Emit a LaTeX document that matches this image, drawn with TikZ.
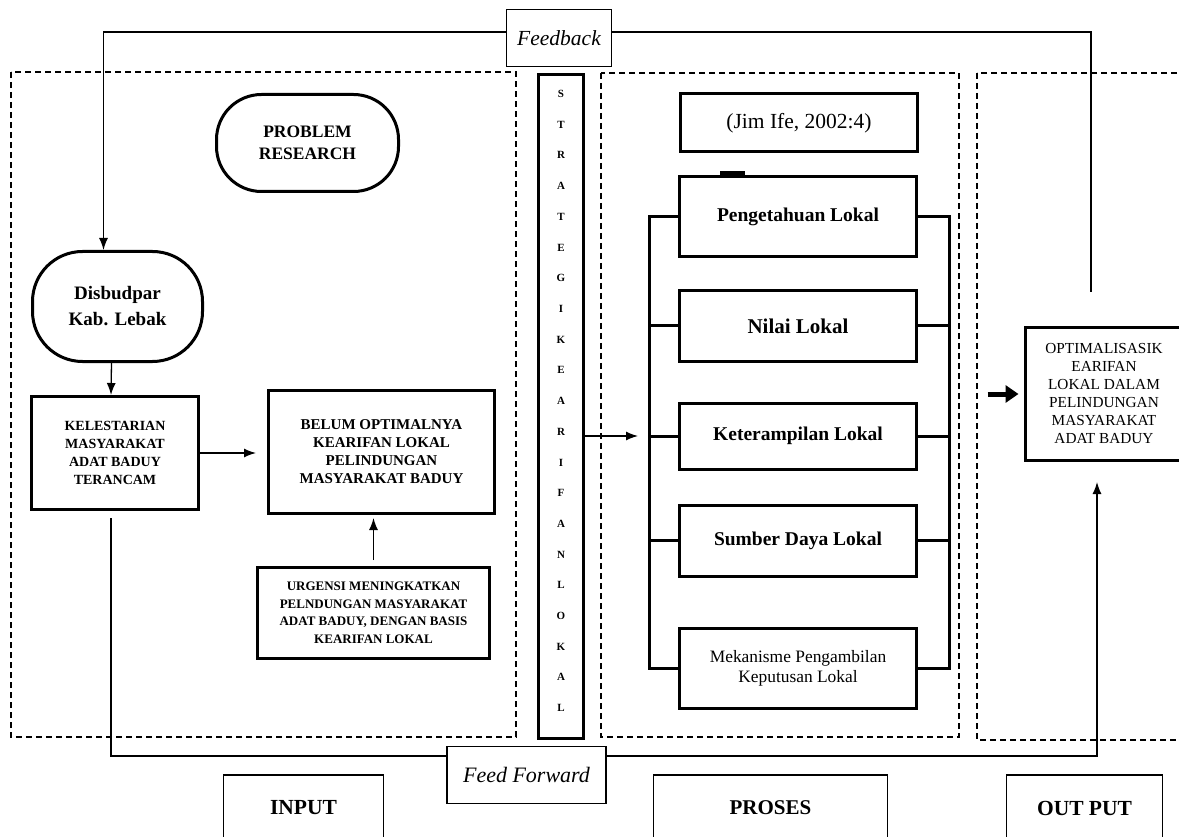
\documentclass[tikz,border=0pt]{standalone}
\usepackage{fontspec}
\setmainfont{Liberation Serif}
\usetikzlibrary{arrows.meta}

\newcommand{\fsz}[2]{\fontsize{#1}{#2}\selectfont}

\tikzset{
  thickbox/.style={draw, line width=3pt, align=center, inner sep=2pt},
  thinbox/.style={draw, line width=1.3pt, align=center, inner sep=2pt},
  roundbox/.style={draw, line width=3pt, rounded corners=45pt, align=center},
  region/.style={draw, line width=1.2pt, dash pattern=on 6pt off 4pt},
  link/.style={line width=1.3pt},
  bracket/.style={line width=3pt, line cap=rect},
  letter/.style={font=\fsz{11}{11}\bfseries, inner sep=0pt},
}

\begin{document}
\begin{tikzpicture}[x=1pt, y=-1pt, >={Latex[length=12pt,width=9pt]}]
    \useasboundingbox (0,0) rectangle (1179,837);
    \clip (0,0) rectangle (1179,837);

    % dashed regions
    \draw[region] (11,72) rectangle (516,737);
    \draw[region] (601,73) rectangle (959,737);
    \draw[region] (977,73) rectangle (1195,740);

    % input side
    \node[roundbox, minimum width=182, minimum height=97, font=\fsz{17.5}{22}\bfseries] (prob) at (307.5,143) {PROBLEM\\RESEARCH};
    \node[roundbox, rounded corners=50pt, minimum width=170, minimum height=110, font=\fsz{19}{26}\bfseries] (disb) at (117.5,306.5) {Disbudpar\\Kab. Lebak};
    \node[thickbox, minimum width=167, minimum height=113, font=\fsz{14}{18}\bfseries] (kel) at (115,453) {KELESTARIAN\\MASYARAKAT\\ADAT BADUY\\TERANCAM};
    \node[thickbox, minimum width=226, minimum height=123, font=\fsz{15}{18}\bfseries] (belum) at (381.5,452) {BELUM OPTIMALNYA\\KEARIFAN LOKAL\\PELINDUNGAN\\MASYARAKAT BADUY};
    \node[thickbox, minimum width=232, minimum height=91, font=\fsz{13}{17.5}\bfseries] (urg) at (373.5,613) {URGENSI MENINGKATKAN\\PELNDUNGAN MASYARAKAT\\ADAT BADUY, DENGAN BASIS\\KEARIFAN LOKAL};

    % strategi column
    \node[thickbox, minimum width=45, minimum height=664] (col) at (561,406.5) {};
    \foreach \c [count=\i] in {S,T,R,A,T,E,G,I,K,E,A,R,I,F,A,N,L,O,K,A,L}
        \node[letter] (l\i) at (561,{63.3+30.7*\i}) {\c};

    % proses side
    \node[thickbox, minimum width=237, minimum height=58, font=\fsz{21.5}{24}] (jim) at (799,123) {(Jim Ife, 2002:4)};
    \node[thickbox, minimum width=237, minimum height=80, font=\fsz{19.5}{22}\bfseries] (pen) at (798,217) {Pengetahuan Lokal};
    \node[thickbox, minimum width=237, minimum height=71, font=\fsz{21}{24}\bfseries] (nil) at (798,326) {Nilai Lokal};
    \node[thickbox, minimum width=237, minimum height=66, font=\fsz{19.5}{22}\bfseries] (ket) at (798,436) {Keterampilan Lokal};
    \node[thickbox, minimum width=237, minimum height=71, font=\fsz{19.5}{22}\bfseries] (sum) at (798,540.5) {Sumber Daya Lokal};
    \node[thickbox, minimum width=237, minimum height=80, font=\fsz{17.4}{20}] (mek) at (798,668) {Mekanisme Pengambilan\\Keputusan Lokal};

    % output side
    \node[thickbox, minimum width=158, minimum height=132, font=\fsz{15.3}{18}] (opt) at (1104,394) {OPTIMALISASIK\\EARIFAN\\LOKAL DALAM\\PELINDUNGAN\\MASYARAKAT\\ADAT BADUY};

    % feedback / feed forward labels
    \node[thinbox, minimum width=105, minimum height=57, font=\fsz{21.5}{24}\itshape] (fb) at (559,38) {Feedback};
    \node[thinbox, minimum width=159, minimum height=57, font=\fsz{22}{24}\itshape] (ff) at (526.5,775) {Feed Forward};

    % bottom labels
    \node[thinbox, minimum width=160, minimum height=66, font=\fsz{21.5}{24}\bfseries] (inp) at (303.5,808) {INPUT};
    \node[thinbox, minimum width=234, minimum height=66, font=\fsz{21}{24}\bfseries] (pro) at (770.5,808) {PROSES};
    \node[thinbox, minimum width=156, minimum height=66, font=\fsz{21.5}{24}\bfseries] (out) at (1084.5,808) {OUT PUT};

    % connectors
    \coordinate (fbend) at (1091,292);
    \coordinate (ffstart) at (111,518);
    \coordinate (ffend) at (1097,482);
    \draw[link, ->] ([yshift=6pt]fb.west) -| ([xshift=-14pt]disb.north);
    \draw[link] ([yshift=6pt]fb.east) -| (fbend);
    \draw[link, ->] ([xshift=-6pt]disb.south) -- ([xshift=-4pt]kel.north);
    \draw[link, ->, shorten >=11pt] (kel.east) -- (kel.east -| belum.west);
    \draw[link, ->, shorten <=6pt, shorten >=3pt] (urg.north) -- (urg.north |- belum.south);
    \draw[link] (ffstart) |- ([yshift=19pt]ff.west);
    \draw[link, ->] ([yshift=19pt]ff.east) -| (ffend);
    \draw[link, ->] (col.east |- ket.west) -- ([xshift=-40pt]ket.west);

    % bracket round the local factors
    \foreach \b in {pen, nil, ket, sum, mek}
        \draw[bracket] ([xshift=-29pt]\b.west) -- (\b.west) (\b.east) -- ([xshift=31pt]\b.east);
    \draw[bracket] ([xshift=-29pt]pen.west) -- ([xshift=-29pt]mek.west);
    \draw[bracket] ([xshift=31pt]pen.east) -- ([xshift=31pt]mek.east);
    \draw[line width=4pt] ([xshift=-78pt,yshift=2pt]pen.north) -- ++(25,0);

    \draw[line width=5pt, -{Triangle[length=13pt,width=17pt]}] ([xshift=-36pt]opt.west) -- ([xshift=-5pt]opt.west);
\end{tikzpicture}
\end{document}
